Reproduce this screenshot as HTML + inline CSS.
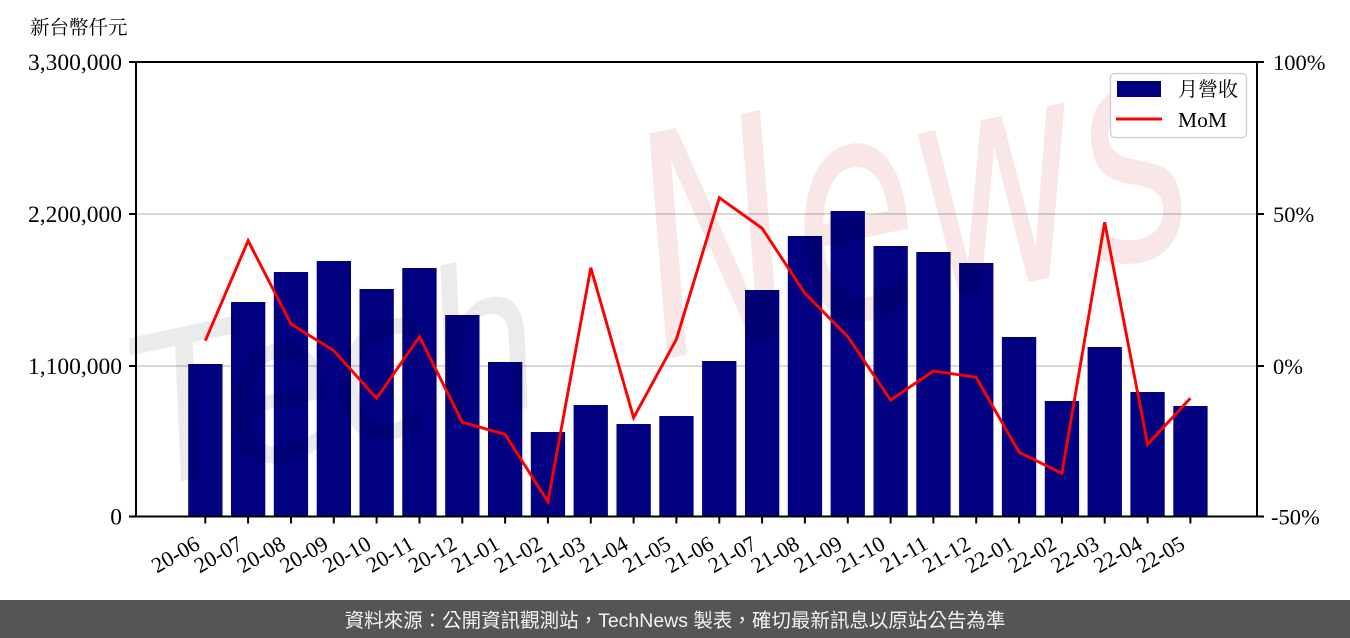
<!DOCTYPE html>
<html>
<head>
<meta charset="utf-8">
<style>
  html,body{margin:0;padding:0;background:#fff;}
  body{width:1350px;height:638px;overflow:hidden;}
  svg{display:block;}
  .wm{mix-blend-mode:multiply;}
</style>
</head>
<body>
<svg width="1350" height="638" viewBox="0 0 1350 638" xmlns="http://www.w3.org/2000/svg">
  <rect x="0" y="0" width="1350" height="638" fill="#fff"/>

  <!-- gridlines -->
  <line x1="136" y1="214" x2="1257" y2="214" stroke="#d9d9d9" stroke-width="2"/>
  <line x1="136" y1="366" x2="1257" y2="366" stroke="#d9d9d9" stroke-width="2"/>

  <!-- bars -->
  <g fill="#000080">
    <rect x="188.2" y="364" width="34.3" height="152.5"/>
    <rect x="231.0" y="302" width="34.3" height="214.5"/>
    <rect x="273.8" y="272" width="34.3" height="244.5"/>
    <rect x="316.7" y="261" width="34.3" height="255.5"/>
    <rect x="359.5" y="289" width="34.3" height="227.5"/>
    <rect x="402.3" y="268" width="34.3" height="248.5"/>
    <rect x="445.2" y="315" width="34.3" height="201.5"/>
    <rect x="488.0" y="362" width="34.3" height="154.5"/>
    <rect x="530.8" y="432" width="34.3" height="84.5"/>
    <rect x="573.6" y="405" width="34.3" height="111.5"/>
    <rect x="616.5" y="424" width="34.3" height="92.5"/>
    <rect x="659.3" y="416" width="34.3" height="100.5"/>
    <rect x="702.1" y="361" width="34.3" height="155.5"/>
    <rect x="745.0" y="290" width="34.3" height="226.5"/>
    <rect x="787.8" y="236" width="34.3" height="280.5"/>
    <rect x="830.6" y="211" width="34.3" height="305.5"/>
    <rect x="873.5" y="246" width="34.3" height="270.5"/>
    <rect x="916.3" y="252" width="34.3" height="264.5"/>
    <rect x="959.1" y="263" width="34.3" height="253.5"/>
    <rect x="1001.9" y="337" width="34.3" height="179.5"/>
    <rect x="1044.8" y="401" width="34.3" height="115.5"/>
    <rect x="1087.6" y="347" width="34.3" height="169.5"/>
    <rect x="1130.4" y="392" width="34.3" height="124.5"/>
    <rect x="1173.3" y="406" width="34.3" height="110.5"/>
  </g>

  <!-- watermark -->
  <g class="wm" transform="translate(150,488) rotate(-12) scale(1,1.15)">
    <text x="0" y="0" font-family="'DejaVu Sans', sans-serif" font-style="italic" font-size="180" fill="#ebebeb">Tech</text>
  </g>
  <g class="wm" transform="translate(662,360) rotate(-12) scale(1,1.5)">
    <text x="0" y="0" font-family="'DejaVu Sans', sans-serif" font-style="italic" font-size="205" fill="#f9e6e6">News</text>
  </g>

  <!-- MoM line -->
  <polyline fill="none" stroke="#ff0000" stroke-width="2.9" stroke-linejoin="miter"
    points="205.3,340.7 248.1,240.7 291.0,324 333.8,350.7 376.6,398.3 419.5,336.7 462.3,422.3 505.1,434.3 547.9,501.7 590.8,267.7 633.6,417.7 676.4,339.3 719.3,197.7 762.1,228.3 804.9,293.3 847.8,336.7 890.6,400 933.4,371 976.2,377.3 1019.1,452.3 1061.9,473.3 1104.7,222.3 1147.6,444.3 1190.4,398.3"/>

  <!-- spines -->
  <rect x="136" y="62" width="1121" height="454.5" fill="none" stroke="#000" stroke-width="2"/>

  <!-- left/right ticks -->
  <g stroke="#000" stroke-width="2">
    <line x1="129" y1="62" x2="136" y2="62"/>
    <line x1="129" y1="214" x2="136" y2="214"/>
    <line x1="129" y1="366" x2="136" y2="366"/>
    <line x1="129" y1="516.5" x2="136" y2="516.5"/>
    <line x1="1257" y1="62" x2="1264" y2="62"/>
    <line x1="1257" y1="214" x2="1264" y2="214"/>
    <line x1="1257" y1="366" x2="1264" y2="366"/>
    <line x1="1257" y1="516.5" x2="1264" y2="516.5"/>
  </g>
  <!-- bottom ticks -->
  <g stroke="#000" stroke-width="2">
    <line x1="205.3" y1="516.5" x2="205.3" y2="523.5"/>
    <line x1="248.1" y1="516.5" x2="248.1" y2="523.5"/>
    <line x1="291.0" y1="516.5" x2="291.0" y2="523.5"/>
    <line x1="333.8" y1="516.5" x2="333.8" y2="523.5"/>
    <line x1="376.6" y1="516.5" x2="376.6" y2="523.5"/>
    <line x1="419.5" y1="516.5" x2="419.5" y2="523.5"/>
    <line x1="462.3" y1="516.5" x2="462.3" y2="523.5"/>
    <line x1="505.1" y1="516.5" x2="505.1" y2="523.5"/>
    <line x1="547.9" y1="516.5" x2="547.9" y2="523.5"/>
    <line x1="590.8" y1="516.5" x2="590.8" y2="523.5"/>
    <line x1="633.6" y1="516.5" x2="633.6" y2="523.5"/>
    <line x1="676.4" y1="516.5" x2="676.4" y2="523.5"/>
    <line x1="719.3" y1="516.5" x2="719.3" y2="523.5"/>
    <line x1="762.1" y1="516.5" x2="762.1" y2="523.5"/>
    <line x1="804.9" y1="516.5" x2="804.9" y2="523.5"/>
    <line x1="847.8" y1="516.5" x2="847.8" y2="523.5"/>
    <line x1="890.6" y1="516.5" x2="890.6" y2="523.5"/>
    <line x1="933.4" y1="516.5" x2="933.4" y2="523.5"/>
    <line x1="976.2" y1="516.5" x2="976.2" y2="523.5"/>
    <line x1="1019.1" y1="516.5" x2="1019.1" y2="523.5"/>
    <line x1="1061.9" y1="516.5" x2="1061.9" y2="523.5"/>
    <line x1="1104.7" y1="516.5" x2="1104.7" y2="523.5"/>
    <line x1="1147.6" y1="516.5" x2="1147.6" y2="523.5"/>
    <line x1="1190.4" y1="516.5" x2="1190.4" y2="523.5"/>
  </g>

  <!-- left tick labels -->
  <g font-family="'Liberation Serif', serif" font-size="23.5" fill="#000" text-anchor="end">
    <text x="122" y="70">3,300,000</text>
    <text x="122" y="222">2,200,000</text>
    <text x="122" y="374">1,100,000</text>
    <text x="122" y="524.5">0</text>
  </g>
  <!-- right tick labels -->
  <g font-family="'Liberation Serif', serif" font-size="22.5" fill="#000" text-anchor="start">
    <text x="1273" y="70">100%</text>
    <text x="1273" y="222">50%</text>
    <text x="1273" y="374">0%</text>
    <text x="1271" y="524.5">-50%</text>
  </g>

  <!-- x tick labels -->
  <g font-family="'Liberation Serif', serif" font-size="22" fill="#000" text-anchor="end">
    <text transform="translate(201.3,548) rotate(-30)">20-06</text>
    <text transform="translate(244.1,548) rotate(-30)">20-07</text>
    <text transform="translate(287.0,548) rotate(-30)">20-08</text>
    <text transform="translate(329.8,548) rotate(-30)">20-09</text>
    <text transform="translate(372.6,548) rotate(-30)">20-10</text>
    <text transform="translate(415.5,548) rotate(-30)">20-11</text>
    <text transform="translate(458.3,548) rotate(-30)">20-12</text>
    <text transform="translate(501.1,548) rotate(-30)">21-01</text>
    <text transform="translate(543.9,548) rotate(-30)">21-02</text>
    <text transform="translate(586.8,548) rotate(-30)">21-03</text>
    <text transform="translate(629.6,548) rotate(-30)">21-04</text>
    <text transform="translate(672.4,548) rotate(-30)">21-05</text>
    <text transform="translate(715.3,548) rotate(-30)">21-06</text>
    <text transform="translate(758.1,548) rotate(-30)">21-07</text>
    <text transform="translate(800.9,548) rotate(-30)">21-08</text>
    <text transform="translate(843.8,548) rotate(-30)">21-09</text>
    <text transform="translate(886.6,548) rotate(-30)">21-10</text>
    <text transform="translate(929.4,548) rotate(-30)">21-11</text>
    <text transform="translate(972.2,548) rotate(-30)">21-12</text>
    <text transform="translate(1015.1,548) rotate(-30)">22-01</text>
    <text transform="translate(1057.9,548) rotate(-30)">22-02</text>
    <text transform="translate(1100.7,548) rotate(-30)">22-03</text>
    <text transform="translate(1143.6,548) rotate(-30)">22-04</text>
    <text transform="translate(1186.4,548) rotate(-30)">22-05</text>
  </g>

  <!-- y axis title -->
  <text x="30" y="34" font-family="'Liberation Serif','Noto Serif CJK SC','Noto Sans CJK TC',serif" font-size="19.5" fill="#000">新台幣仟元</text>

  <!-- legend -->
  <rect x="1110.5" y="73.5" width="136" height="64" rx="4" ry="4" fill="#ffffff" fill-opacity="0.85" stroke="#cccccc" stroke-width="1.2"/>
  <rect x="1117" y="81" width="44" height="16" fill="#000080"/>
  <line x1="1116" y1="119" x2="1162" y2="119" stroke="#ff0000" stroke-width="3"/>
  <text x="1178" y="96" font-family="'Liberation Serif','Noto Serif CJK SC','Noto Sans CJK TC',serif" font-size="20" fill="#000">月營收</text>
  <text x="1178" y="127" font-family="'Liberation Serif', serif" font-size="21.5" fill="#000">MoM</text>

  <!-- footer -->
  <rect x="0" y="600" width="1350" height="38" fill="#555555"/>
  <text x="675" y="627" text-anchor="middle" font-family="'Liberation Sans','Noto Sans CJK TC',sans-serif" font-size="19.5" fill="#f2f2f2">資料來源：公開資訊觀測站，TechNews 製表，確切最新訊息以原站公告為準</text>
</svg>
</body>
</html>
